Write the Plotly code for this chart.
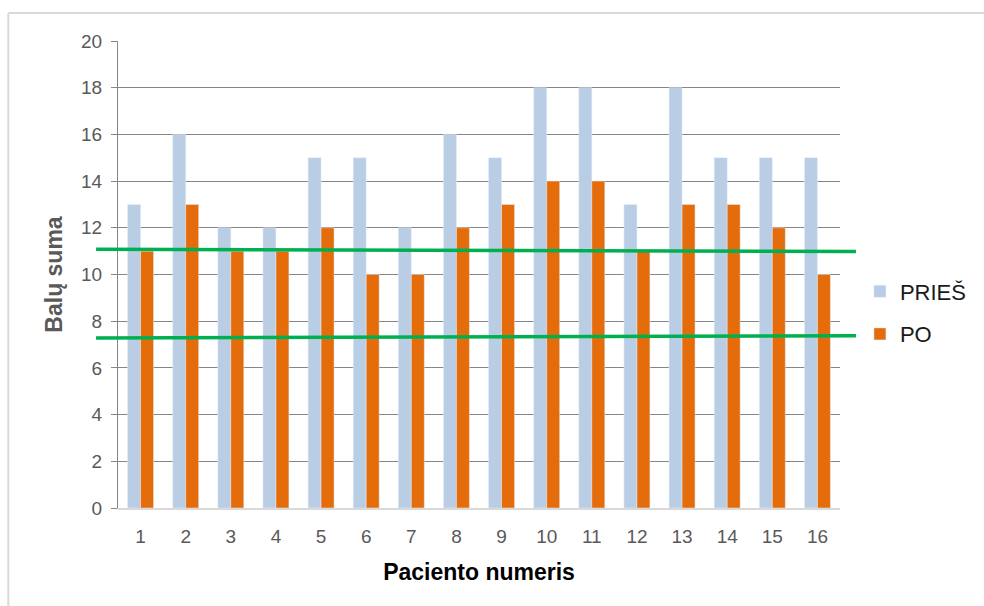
import plotly.graph_objects as go

# Patient scores before and after
patients = [str(i) for i in range(1, 17)]
pries = [13, 16, 12, 12, 15, 15, 12, 16, 15, 18, 18, 13, 18, 15, 15, 15]
po = [11, 13, 11, 11, 12, 10, 10, 12, 13, 14, 14, 11, 13, 13, 12, 10]

# Reference lines drawn across the chart (left end, right end)
upper_line = [11.08, 10.98]
lower_line = [7.28, 7.38]

y_ticks = list(range(0, 21, 2))

FONT = "Liberation Sans, Arial, sans-serif"
BLUE = "#B9CDE5"
ORANGE = "#E46C0A"
GREEN = "#00B050"

fig = go.Figure()
fig.add_trace(go.Bar(x=patients, y=pries, name="PRIEŠ", marker_color=BLUE,
                     legendgroup="a"))
fig.add_trace(go.Bar(x=patients, y=po, name="PO", marker_color=ORANGE,
                     legendgroup="b"))

shapes = []
for ys in (upper_line, lower_line):
    shapes.append(dict(type="line", xref="paper", yref="y",
                       x0=-0.0304, x1=1.0221, y0=ys[0], y1=ys[1],
                       line=dict(color=GREEN, width=3.5), layer="above"))
# outer frame (left and top edges)
shapes.append(dict(type="line", xref="paper", yref="paper",
                   x0=-0.1519, x1=-0.1519, y0=-0.3, y1=1.06,
                   line=dict(color="#D9D9D9", width=2)))
shapes.append(dict(type="line", xref="paper", yref="paper",
                   x0=-0.1519, x1=1.3, y0=1.06, y1=1.06,
                   line=dict(color="#D9D9D9", width=2)))

fig.update_layout(
    width=984, height=606,
    margin=dict(l=118, r=142, t=41, b=98),
    paper_bgcolor="white", plot_bgcolor="white",
    barmode="group", bargap=0.425, bargroupgap=0,
    font=dict(family=FONT, color="#595959"),
    shapes=shapes,
    legend=dict(x=1.0276, xanchor="left", y=0.4176, yanchor="middle",
                font=dict(size=22, color="#1a1a1a", family=FONT),
                tracegroupgap=11, traceorder="grouped"),
    xaxis=dict(
        title=dict(text="<b>Paciento numeris</b>", font=dict(size=23, color="#000000"),
                   standoff=18),
        tickfont=dict(size=19, color="#595959"),
        ticklabelstandoff=10,
        showline=True, linecolor="#D9D9D9", linewidth=1.5,
        ticks="", showgrid=False,
    ),
    yaxis=dict(
        title=dict(text="<b>Balų suma</b>", font=dict(size=23, color="#595959"),
                   standoff=12),
        range=[0, 20], tickvals=y_ticks,
        tickfont=dict(size=19, color="#595959"),
        ticklabelstandoff=5,
        showline=True, linecolor="#868686", linewidth=1,
        ticks="outside", ticklen=6, tickcolor="#868686",
        showgrid=True, gridcolor="#868686", gridwidth=1,
        zeroline=False,
    ),
)

fig.write_html("out.html")
